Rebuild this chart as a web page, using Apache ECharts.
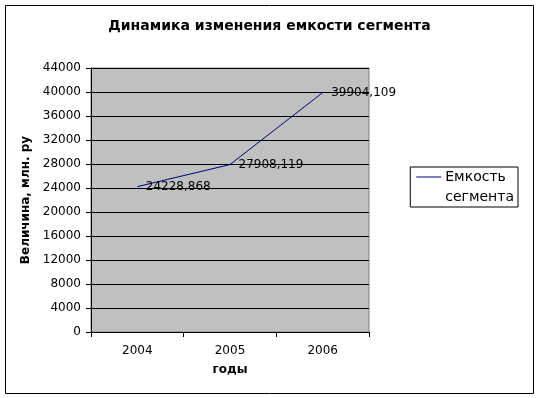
<!DOCTYPE html>
<html><head><meta charset="utf-8">
<script src="https://cdn.jsdelivr.net/npm/echarts@6/dist/echarts.min.js"></script>
<style>html,body{margin:0;padding:0;background:#fff}#c{width:539px;height:398px}</style>
</head><body><div id="c"></div>
<script>
const categories = ['2004', '2005', '2006'];
const values = [24228.868, 27908.119, 39904.109];
const seriesName = 'Емкость\nсегмента';
const labelTexts = ['24228,868', '27908,119', '39904,109'];

const chart = echarts.init(document.getElementById('c'));
const F = 'DejaVu Sans, Verdana, sans-serif';
chart.setOption({
  animation: false,
  backgroundColor: '#fff',
  title: {
    text: 'Динамика изменения емкости сегмента',
    left: 'center', top: 14,
    textStyle: {fontFamily: F, fontSize: 14, fontWeight: 'bold', color: '#000'}
  },
  graphic: [{
    type: 'rect', shape: {x: 5.5, y: 5.5, width: 528, height: 388},
    style: {fill: 'none', stroke: '#000', lineWidth: 1}, silent: true, z: -1
  }],
  legend: {
    right: 21, top: 167, orient: 'vertical',
    itemWidth: 25, itemHeight: 21, itemGap: 0,
    padding: [0, 4, 0, 6],
    borderColor: '#000', borderWidth: 1,
    icon: 'path://M0,0L25,0L25,1L0,1Z M0,21L0.01,21L0.01,21Z',
    itemStyle: {color: '#000080', opacity: 1},
    textStyle: {fontFamily: F, fontSize: 14, color: '#000', lineHeight: 20, padding: [0,0,0,-1]},
    data: [{name: seriesName, itemStyle: {color: '#000080', opacity: 1}}]
  },
  grid: {left: 91, right: 170, top: 68, bottom: 66, show: true, backgroundColor: '#c0c0c0', borderColor: '#808080', borderWidth: 1},
  xAxis: {
    type: 'category', data: categories, boundaryGap: true,
    name: 'годы', nameLocation: 'middle', nameGap: 32,
    nameTextStyle: {fontFamily: F, fontSize: 12, fontWeight: 'bold', color: '#000'},
    axisLine: {lineStyle: {color: '#000', width: 1}},
    axisTick: {show: true, length: 5, lineStyle: {color: '#000'}},
    axisLabel: {fontFamily: F, fontSize: 12, color: '#000', margin: 13}
  },
  yAxis: {
    type: 'value', min: 0, max: 44000, interval: 4000,
    name: 'Величина, млн. ру', nameLocation: 'middle', nameGap: 56, nameRotate: 90,
    nameTextStyle: {fontFamily: F, fontSize: 12, fontWeight: 'bold', color: '#000'},
    axisLine: {show: true, lineStyle: {color: '#000'}},
    axisTick: {show: true, length: 5, lineStyle: {color: '#000'}},
    axisLabel: {fontFamily: F, fontSize: 12, color: '#000', margin: 10, formatter: v => String(v)},
    splitLine: {show: true, lineStyle: {color: '#000', width: 1}}
  },
  series: [{
    name: seriesName, type: 'line', data: values,
    showSymbol: true, symbol: 'circle', symbolSize: 1,
    lineStyle: {color: '#000080', width: 1},
    itemStyle: {color: 'rgba(0,0,0,0)', borderWidth: 0},
    label: {
      show: true, position: 'right', distance: 8,
      fontFamily: F, fontSize: 12, color: '#000',
      formatter: p => labelTexts[p.dataIndex]
    }
  }]
});
</script></body></html>
